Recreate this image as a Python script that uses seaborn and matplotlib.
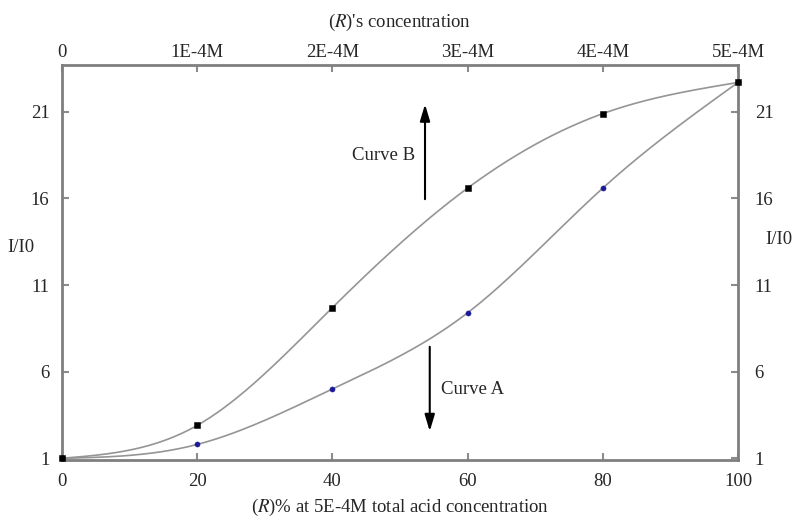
import numpy as np
import pandas as pd
import seaborn as sns
import matplotlib.pyplot as plt

# values
percent = [0, 20, 40, 60, 80, 100]
curve_a = [1.0, 1.8, 5.0, 9.4, 16.6, 22.7]
curve_b = [1.0, 2.9, 9.7, 16.6, 20.9, 22.7]
y_ticks = [1, 6, 11, 16, 21]
x_ticks = [0, 20, 40, 60, 80, 100]
top_labels = ['0', '1E-4M', '2E-4M', '3E-4M', '4E-4M', '5E-4M']


def smooth(x, y, n=300):
    # natural cubic spline, only used to draw the smooth line between the points
    x = np.asarray(x, float)
    y = np.asarray(y, float)
    k = len(x)
    h = np.diff(x)
    A = np.zeros((k, k))
    r = np.zeros(k)
    A[0, 0] = A[-1, -1] = 1
    for i in range(1, k - 1):
        A[i, i - 1] = h[i - 1]
        A[i, i] = 2 * (h[i - 1] + h[i])
        A[i, i + 1] = h[i]
        r[i] = 6 * ((y[i + 1] - y[i]) / h[i] - (y[i] - y[i - 1]) / h[i - 1])
    M = np.linalg.solve(A, r)
    xs = np.linspace(x[0], x[-1], n)
    idx = np.clip(np.searchsorted(x, xs) - 1, 0, k - 2)
    x0, x1 = x[idx], x[idx + 1]
    hh = h[idx]
    ys = (M[idx] * (x1 - xs) ** 3 / (6 * hh) + M[idx + 1] * (xs - x0) ** 3 / (6 * hh)
          + (y[idx] / hh - M[idx] * hh / 6) * (x1 - xs)
          + (y[idx + 1] / hh - M[idx + 1] * hh / 6) * (xs - x0))
    return xs, ys


sns.set_style('white')
plt.rcParams['font.family'] = ['Liberation Serif', 'DejaVu Serif']
plt.rcParams['mathtext.fontset'] = 'stix'

fig = plt.figure(figsize=(8, 5.21), dpi=100)
ax = fig.add_axes([0.0775, 0.117, 0.845, 0.758])

# twin axes first so the data axes (and markers) sit on top
top = ax.twiny()
right = ax.twinx()
ax.set_zorder(3)
ax.patch.set_visible(False)

for ys in (curve_a, curve_b):
    sx, sy = smooth(percent, ys)
    line_df = pd.DataFrame({'x': sx, 'y': sy})
    sns.lineplot(data=line_df, x='x', y='y', ax=ax, color='#959595', lw=1.2,
                 sort=False, estimator=None)

df = pd.DataFrame({'x': percent, 'A': curve_a, 'B': curve_b})
sns.scatterplot(data=df, x='x', y='A', ax=ax, marker='o', s=14, color='#1a1a99',
                edgecolor='#1a1a99', zorder=5, clip_on=False)
sns.scatterplot(data=df, x='x', y='B', ax=ax, marker='s', s=22, color='black',
                edgecolor='black', zorder=6, clip_on=False)

ax.set_xlim(0, 100)
ax.set_ylim(0.9, 23.7)
ax.set_xticks(x_ticks)
ax.set_yticks(y_ticks)
ax.set_xlabel('($\\mathit{R}$)% at 5E-4M total acid concentration', fontsize=13.5, labelpad=5)
ax.set_ylabel('')

for s in ax.spines.values():
    s.set_color('#7f7f7f')
    s.set_linewidth(2)
ax.tick_params(direction='in', length=5, width=1.5, color='#8c8c8c',
               labelsize=13.5, pad=9)

top.set_xlim(ax.get_xlim())
top.set_xticks(x_ticks)
top.set_xticklabels(top_labels)
top.set_xlabel('($\\mathit{R}$)\'s concentration', fontsize=13.5, labelpad=12)
top.tick_params(direction='in', length=5, width=1.5, color='#8c8c8c',
                labelsize=13.5, pad=3)

right.set_ylim(ax.get_ylim())
right.set_yticks(y_ticks)
right.tick_params(direction='in', length=5, width=1.5, color='#8c8c8c',
                  labelsize=13.5, pad=12)
for a in (top, right):
    for s in a.spines.values():
        s.set_visible(False)

fig.text(21 / 800, 1 - 247 / 521, 'I/I0', fontsize=13.5, ha='center', va='center')
fig.text(779 / 800, 1 - 240 / 521, 'I/I0', fontsize=13.5, ha='center', va='center')

ax.annotate('', xy=(53.7, 21.6), xytext=(53.7, 15.8),
            arrowprops=dict(arrowstyle='-|>,head_width=0.3,head_length=1.0',
                            color='black', lw=1.5))
ax.annotate('', xy=(54.4, 2.4), xytext=(54.4, 7.6),
            arrowprops=dict(arrowstyle='-|>,head_width=0.3,head_length=1.0',
                            color='black', lw=1.5))
ax.text(52.3, 18.5, 'Curve B', fontsize=13.5, ha='right', va='center')
ax.text(56.0, 5.0, 'Curve A', fontsize=13.5, ha='left', va='center')

fig.savefig('out.png', dpi=100)
